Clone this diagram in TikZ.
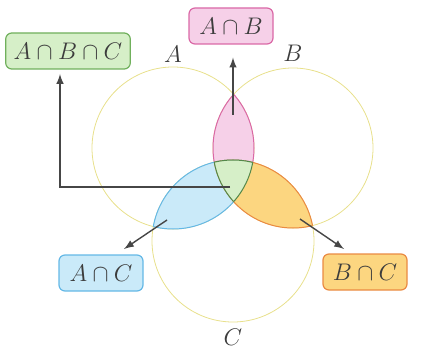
\documentclass[tikz,border=0pt]{standalone}
\usepackage{tikz}
\usetikzlibrary{arrows,positioning}
\definecolor{ringyellow}{RGB}{232,224,140}
\definecolor{pinkfill}{RGB}{246,208,232}
\definecolor{pinkline}{RGB}{218,104,166}
\definecolor{bluefill}{RGB}{202,234,249}
\definecolor{blueline}{RGB}{100,184,230}
\definecolor{orangefill}{RGB}{252,214,128}
\definecolor{orangeline}{RGB}{234,138,66}
\definecolor{greenfill}{RGB}{214,239,200}
\definecolor{greenline}{RGB}{84,136,74}
\definecolor{greenbox}{RGB}{112,176,92}
\definecolor{arrowgray}{RGB}{70,70,70}
\definecolor{textgray}{RGB}{60,60,60}

\begin{document}
\begin{tikzpicture}[
    x=0.5pt, y=-0.5pt,
    every node/.style={align=center, text=textgray},
    ring/.style={draw=ringyellow, line width=0.4pt},
    tag/.style={rectangle, rounded corners=3pt, minimum height=18pt, inner xsep=4pt, line width=0.6pt, font=\large},
    setname/.style={font=\large},
    arrow/.style={line width=0.7pt, draw=arrowgray, ->, >=latex}
]
\useasboundingbox (0,0) rectangle (433,347);

% Circle centres
\coordinate (A) at (173,148);
\coordinate (B) at (293,148);
\coordinate (C) at (233,241);

% Outlines
\draw[ring] (A) circle (81);
\draw[ring] (B) circle (80);
\draw[ring] (C) circle (81);

% A and B
\begin{scope}
\clip (A) circle (81);
\draw[draw=pinkline, fill=pinkfill, line width=0.5pt] (B) circle (80);
\end{scope}
\begin{scope}
\clip (B) circle (80);
\draw[pinkline, line width=0.5pt] (A) circle (81);
\end{scope}

% A and C
\begin{scope}
\clip (A) circle (81);
\draw[draw=blueline, fill=bluefill, line width=0.5pt] (C) circle (81);
\end{scope}
\begin{scope}
\clip (C) circle (81);
\draw[blueline, line width=0.5pt] (A) circle (81);
\end{scope}

% B and C
\begin{scope}
\clip (B) circle (80);
\draw[draw=orangeline, fill=orangefill, line width=0.5pt] (C) circle (81);
\end{scope}
\begin{scope}
\clip (C) circle (81);
\draw[orangeline, line width=0.5pt] (B) circle (80);
\end{scope}

% A, B and C
\begin{scope}
\clip (A) circle (81);
\clip (B) circle (80);
\draw[draw=greenline, fill=greenfill, line width=0.5pt] (C) circle (81);
\end{scope}
\begin{scope}
\clip (A) circle (81);
\clip (C) circle (81);
\draw[greenline, line width=0.5pt] (B) circle (80);
\end{scope}
\begin{scope}
\clip (B) circle (80);
\clip (C) circle (81);
\draw[greenline, line width=0.5pt] (A) circle (81);
\end{scope}

% Set names
\node[setname] (nameA) at (173,54) {$A$};
\node[setname] (nameB) at (293,53) {$B$};
\node[setname] (nameC) at (233,337) {$C$};

% Tags
\node[tag, draw=greenbox, fill=greenfill, minimum width=59pt] (abc) at (68,51) {$A\cap B\cap C$};
\node[tag, draw=pinkline, fill=pinkfill, minimum width=42pt] (ab) at (231,26) {$A\cap B$};
\node[tag, draw=blueline, fill=bluefill, minimum width=42pt] (ac) at (101,273) {$A\cap C$};
\node[tag, draw=orangeline, fill=orangefill, minimum width=42pt] (bc) at (365,272) {$B\cap C$};

% Arrows
\coordinate (abpt) at (233,115);
\coordinate (abcpt) at (230,187);
\coordinate (acpt) at (167,220);
\coordinate (bcpt) at (300,219);
\coordinate (abctip) at (60,74);
\coordinate (actip) at (124,249);
\coordinate (bctip) at (344,249);

\draw[arrow, shorten >=6.5pt] (abpt) -- (abpt |- ab.south);
\draw[arrow] (abcpt) -| (abctip);
\draw[arrow] (acpt) -- (actip);
\draw[arrow] (bcpt) -- (bctip);

\end{tikzpicture}
\end{document}
